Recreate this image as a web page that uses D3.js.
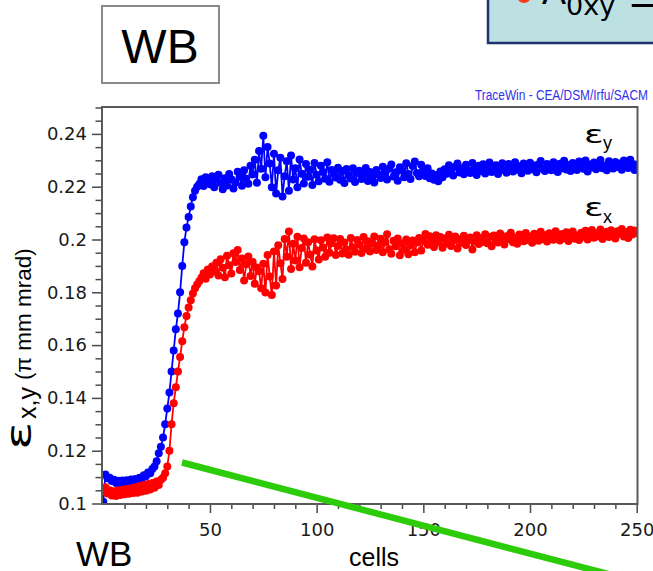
<!DOCTYPE html>
<html><head><meta charset="utf-8">
<script src="https://cdn.jsdelivr.net/npm/d3@7"></script>
<style>html,body{margin:0;padding:0;background:#fff;} svg{display:block}</style>
</head><body>
<svg id="c" width="653" height="571"></svg>
<script>
// emittance epsilon_y (blue), one value per cell, cells 0..250
const emitY = [
.1007,.1110,.1096,.1098,.1085,.1090,.1078,.1086,.1076,.1087,
.1079,.1088,.1080,.1091,.1083,.1093,.1087,.1098,.1094,.1107,
.1103,.1117,.1115,.1131,.1140,.1160,.1190,.1215,.1250,.1300,
.1360,.1420,.1500,.1580,.1660,.1720,.1800,.1900,.1990,.2045,
.2085,.2125,.2160,.2185,.2200,.2210,.2228,.2203,.2236,.2221,
.2209,.2240,.2198,.2226,.2245,.2214,.2190,.2232,.2205,.2248,
.2228,.2193,.2216,.2257,.2238,.2204,.2262,.2230,.2211,.2279,
.2246,.2302,.2215,.2335,.2268,.2393,.2236,.2350,.2288,.2198,
.2325,.2174,.2262,.2310,.2163,.2240,.2296,.2185,.2318,.2227,
.2270,.2198,.2303,.2249,.2212,.2286,.2238,.2264,.2206,.2290,
.2245,.2221,.2279,.2256,.2230,.2293,.2219,.2263,.2248,.2235,
.2272,.2226,.2259,.2214,.2267,.2243,.2231,.2270,.2218,.2252,
.2260,.2229,.2247,.2271,.2222,.2256,.2238,.2216,.2263,.2245,
.2233,.2276,.2250,.2227,.2268,.2284,.2239,.2255,.2223,.2274,
.2261,.2236,.2289,.2248,.2229,.2278,.2295,.2252,.2240,.2283,
.2262,.2241,.2270,.2232,.2250,.2226,.2244,.2221,.2258,.2236,
.2266,.2249,.2281,.2257,.2242,.2276,.2288,.2254,.2270,.2247,
.2283,.2261,.2252,.2290,.2268,.2244,.2279,.2259,.2285,.2250,
.2271,.2292,.2256,.2266,.2281,.2248,.2274,.2289,.2262,.2253,
.2286,.2270,.2258,.2293,.2264,.2277,.2251,.2288,.2272,.2260,
.2291,.2266,.2280,.2255,.2284,.2297,.2268,.2259,.2286,.2274,
.2262,.2293,.2279,.2256,.2287,.2270,.2298,.2265,.2282,.2259,
.2290,.2276,.2263,.2295,.2281,.2268,.2299,.2258,.2284,.2273,
.2292,.2266,.2287,.2301,.2270,.2279,.2262,.2296,.2283,.2269,
.2294,.2275,.2288,.2264,.2299,.2280,.2271,.2302,.2286,.2263,
.2284];
// emittance epsilon_x (red)
const emitX = [
.1045,.1062,.1038,.1050,.1030,.1046,.1028,.1049,.1032,.1052,
.1035,.1055,.1037,.1058,.1040,.1062,.1041,.1066,.1045,.1070,
.1048,.1074,.1053,.1078,.1060,.1083,.1070,.1090,.1098,.1115,
.1140,.1200,.1300,.1380,.1440,.1500,.1555,.1615,.1668,.1710,
.1742,.1770,.1795,.1815,.1830,.1842,.1855,.1872,.1851,.1886,
.1867,.1898,.1879,.1912,.1864,.1925,.1893,.1857,.1938,.1902,
.1871,.1948,.1915,.1960,.1884,.1928,.1845,.1906,.1936,.1862,
.1915,.1832,.1894,.1880,.1815,.1908,.1799,.1941,.1860,.1790,
.1955,.1826,.1978,.1910,.1850,.2002,.1935,.2030,.1888,.1984,
.1920,.2010,.1895,.1968,.2004,.1912,.1990,.1942,.1898,.2001,
.1958,.1924,.1997,.1970,.1935,.2008,.1950,.1986,.2005,.1941,
.1975,.2002,.1947,.1989,.1962,.1942,.2006,.1971,.1954,.1998,
.1980,.1949,.2009,.1965,.1993,.1955,.1984,.2011,.1960,.1978,
.2003,.1952,.1990,.2020,.1963,.1946,.1995,.1974,.2004,.1940,
.1985,.1961,.2000,.1944,.1978,.1996,.1952,.1989,.2006,.1958,
.1995,.2021,.1980,.2012,.1998,.1972,.2016,.1990,.2009,.1969,
.2004,.1985,.2018,.1975,.1996,.2011,.1966,.2001,.1988,.2014,
.1979,.1997,.2008,.1962,.1993,.2016,.1983,.2005,.1991,.2020,
.1986,.2009,.1974,.2015,.2000,.1989,.2023,.1996,.1981,.2012,
.2002,.2026,.1990,.2007,.1984,.2019,.2004,.1993,.2025,.1998,
.2011,.1988,.2022,.2006,.1995,.2029,.2001,.2016,.1992,.2024,
.2008,.1999,.2031,.2013,.1996,.2021,.2005,.2027,.1994,.2018,
.2030,.2003,.2015,.1998,.2026,.2010,.2033,.2000,.2019,.2036,
.2007,.2024,.2012,.2038,.2002,.2020,.2029,.2009,.2035,.2016,
.2004,.2031,.2022,.2040,.2011,.2027,.2006,.2037,.2019,.2034,
.2025];
const yTickValues = [0.1,0.12,0.14,0.16,0.18,0.2,0.22,0.24];
const yTickLabels = ["0.1","0.12","0.14","0.16","0.18","0.2","0.22","0.24"];
const xTickValues = [50,100,150,200,250];
const xTickLabels = ["50","100","150","200","250"];

const svg = d3.select("#c");
const x = d3.scaleLinear().domain([-0.6,250]).range([102,636.7]);
const y = d3.scaleLinear().domain([0.1,0.25]).range([503.5,107.5]);
const L = 102, R = 637.5, T = 107, B = 504;

svg.append("rect").attr("x",L).attr("y",T).attr("width",R-L).attr("height",B-T).attr("fill","#fff");
svg.append("clipPath").attr("id","clip").append("rect").attr("x",L).attr("y",T).attr("width",R-L).attr("height",B-T);

// axes
const tickCol = "#4a4a4a";
const yMinor = d3.range(0.105,0.2501,0.005).filter(v=>Math.abs(Math.round(v*50)-v*50)>1e-6);
const yMin = svg.append("g").attr("transform",`translate(${L},0)`)
  .call(d3.axisLeft(y).tickValues(yMinor).tickSize(6.5).tickFormat(""));
const yMaj = svg.append("g").attr("transform",`translate(${L},0)`)
  .call(d3.axisLeft(y).tickValues(yTickValues).tickSize(10).tickPadding(5).tickFormat((d,i)=>yTickLabels[i]));
const xMinor = d3.range(10,251,10).filter(v=>v%50!==0);
const xMin = svg.append("g").attr("transform",`translate(0,${B})`)
  .call(d3.axisBottom(x).tickValues(xMinor).tickSize(5).tickFormat(""));
const xMaj = svg.append("g").attr("transform",`translate(0,${B})`)
  .call(d3.axisBottom(x).tickValues(xTickValues).tickSize(9).tickPadding(10).tickFormat((d,i)=>xTickLabels[i]));
[yMin,yMaj,xMin,xMaj].forEach(g=>{
  g.select(".domain").remove();
  g.selectAll("line").attr("stroke",tickCol).attr("stroke-width",1.5);
  g.selectAll("text").attr("font-family","DejaVu Sans, Verdana, sans-serif").attr("font-size",18).attr("fill","#1a1a1a");
});

// data
const plot = svg.append("g").attr("clip-path","url(#clip)");
function series(vals,col){
  const pts = vals.map((v,i)=>[i,v]);
  plot.append("path").datum(pts).attr("fill","none").attr("stroke",col).attr("stroke-width",1.8)
    .attr("d",d3.line().x(d=>x(d[0])).y(d=>y(d[1])));
  plot.append("g").selectAll("circle").data(pts).join("circle")
    .attr("cx",d=>x(d[0])).attr("cy",d=>y(d[1])).attr("r",4).attr("fill",col);
}
series(emitY,"#0000ff");
series(emitX,"#ff0000");

// frame
svg.append("rect").attr("x",L).attr("y",T).attr("width",R-L).attr("height",B-T)
  .attr("fill","none").attr("stroke","#5a5a5a").attr("stroke-width",2);

// series labels
function epsLabel(px,py,sub,sx,sy){
  svg.append("text").attr("transform",`translate(${px},${py}) scale(1.45,1)`)
    .attr("font-family","DejaVu Sans, sans-serif").attr("font-size",25).attr("fill","#000").text("ε");
  svg.append("text").attr("x",sx).attr("y",sy).attr("font-family","Liberation Sans, Arial, sans-serif")
    .attr("font-size",18).attr("fill","#000").text(sub);
}
epsLabel(584,143,"y",603,149);
epsLabel(584,216,"x",603,223);

// y axis title
const yl = svg.append("g").attr("transform","translate(31,450) rotate(-90)");
yl.append("text").attr("transform","scale(1.5,1)").attr("font-family","DejaVu Sans, sans-serif")
  .attr("font-size",35).attr("fill","#000").text("ε");
yl.append("text").attr("x",31).attr("y",5).attr("font-family","Liberation Sans, Arial, sans-serif")
  .attr("font-size",25).attr("fill","#000").text("x,y");
yl.append("text").attr("x",70).attr("y",0).attr("font-family","Liberation Sans, Arial, sans-serif")
  .attr("font-size",22.5).attr("fill","#000").text("(π mm mrad)");

// x axis title
svg.append("text").attr("x",374).attr("y",566).attr("text-anchor","middle")
  .attr("font-family","Liberation Sans, Arial, sans-serif").attr("font-size",25).attr("fill","#000").text("cells");

// TraceWin credit
svg.append("text").attr("x",648).attr("y",100).attr("text-anchor","end")
  .attr("font-family","Liberation Sans, Arial, sans-serif").attr("font-size",14)
  .attr("textLength",173).attr("lengthAdjust","spacingAndGlyphs")
  .attr("fill","#3030e8").text("TraceWin - CEA/DSM/Irfu/SACM");

// WB box top
svg.append("rect").attr("x",102).attr("y",6).attr("width",117).attr("height",77)
  .attr("fill","#fff").attr("stroke","#8a8a8a").attr("stroke-width",2);
svg.append("text").attr("x",160).attr("y",63).attr("text-anchor","middle")
  .attr("font-family","Liberation Sans, Arial, sans-serif").attr("font-size",48).attr("fill","#000").text("WB");

// WB bottom
svg.append("text").attr("x",76).attr("y",566)
  .attr("font-family","Liberation Sans, Arial, sans-serif").attr("font-size",35).attr("fill","#000").text("WB");

// top right box (cut off)
svg.append("rect").attr("x",488).attr("y",-10).attr("width",175).attr("height",53)
  .attr("fill","#bde0e3").attr("stroke","#1c3370").attr("stroke-width",2.5);
svg.append("circle").attr("cx",524).attr("cy",-4).attr("r",7).attr("fill","#ff3a1a");
svg.append("text").attr("x",542).attr("y",3.5).attr("font-family","Liberation Sans, Arial, sans-serif")
  .attr("font-size",36).attr("fill","#000").text("A");
svg.append("text").attr("x",566).attr("y",15).attr("font-family","DejaVu Sans, sans-serif")
  .attr("font-size",27).attr("fill","#000").text("0xy");
svg.append("text").attr("x",628).attr("y",13).attr("font-family","DejaVu Sans, sans-serif")
  .attr("font-size",36).attr("fill","#000").text("=");

// green annotation line
svg.append("line").attr("x1",182).attr("y1",462.5).attr("x2",612).attr("y2",575)
  .attr("stroke","#2ccc0a").attr("stroke-width",6.5);
</script>
</body></html>
